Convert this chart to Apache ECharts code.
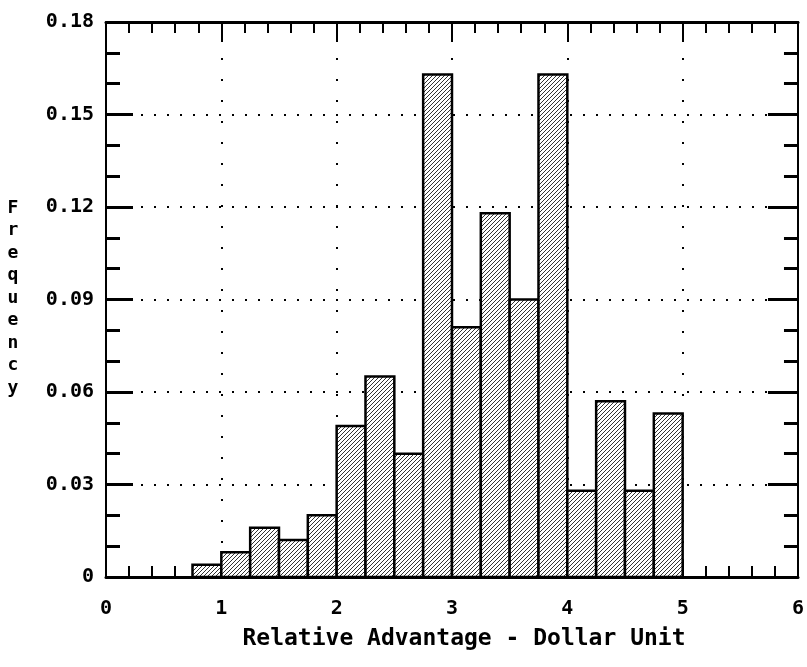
<!DOCTYPE html>
<html>
<head>
<meta charset="utf-8">
<script src="https://cdn.jsdelivr.net/npm/echarts@6/dist/echarts.min.js"></script>
<style>
  html, body { margin: 0; padding: 0; background: #fff; }
  #chart { width: 807px; height: 667px; }
</style>
</head>
<body>
<div id="chart"></div>
<script>
// Histogram bins (lower / upper edge) and the relative frequency in each bin
const binStart = [0.75, 1.00, 1.25, 1.50, 1.75, 2.00, 2.25, 2.50, 2.75, 3.00, 3.25, 3.50, 3.75, 4.00, 4.25, 4.50, 4.75];
const binEnd   = [1.00, 1.25, 1.50, 1.75, 2.00, 2.25, 2.50, 2.75, 3.00, 3.25, 3.50, 3.75, 4.00, 4.25, 4.50, 4.75, 5.00];
const frequency = [0.004, 0.008, 0.016, 0.012, 0.020, 0.049, 0.065, 0.040, 0.163, 0.081, 0.118, 0.090, 0.163, 0.028, 0.057, 0.028, 0.053];

const xTickLabels = ['0', '1', '2', '3', '4', '5', '6'];
const yTickLabels = ['0', '0.03', '0.06', '0.09', '0.12', '0.15', '0.18'];

const xTitle = 'Relative Advantage - Dollar Unit';
const yTitle = 'Frequency';

const FONT = '"DejaVu Sans Mono", "Liberation Mono", monospace';

// Opaque diagonal hatch tile used to fill the bars (white ground, dark "/" strokes)
function hatchTile() {
  const c = document.createElement('canvas');
  c.width = 4; c.height = 4;
  const g = c.getContext('2d');
  g.fillStyle = '#fff';
  g.fillRect(0, 0, 4, 4);
  g.strokeStyle = '#333';
  g.lineWidth = 1;
  g.beginPath();
  g.moveTo(-1, 5); g.lineTo(5, -1);
  g.moveTo(-1, 1); g.lineTo(1, -1);
  g.moveTo(3, 5); g.lineTo(5, 3);
  g.stroke();
  return c;
}
const hatch = { image: hatchTile(), repeat: 'repeat' };

const histData = frequency.map((f, i) => [binStart[i], binEnd[i], f]);

const chart = echarts.init(document.getElementById('chart'), null, { renderer: 'canvas' });

const tickFont = { fontFamily: FONT, fontWeight: 'bold', fontSize: 20, color: '#000' };

chart.setOption({
  animation: false,
  backgroundColor: '#fff',
  grid: { left: 106, right: 7, top: 22, bottom: 90 },
  xAxis: [
    {
      type: 'value', position: 'bottom', min: 0, max: 6, interval: 1, z: 0,
      axisLine: { show: true, lineStyle: { color: '#000', width: 3 } },
      axisTick: { show: true, inside: true, length: 18, lineStyle: { color: '#000', width: 2 } },
      minorTick: { show: true, splitNumber: 5, length: 11, lineStyle: { color: '#000', width: 2 } },
      axisLabel: {
        ...tickFont, margin: 22,
        formatter: v => xTickLabels[Math.round(v)]
      },
      splitLine: { show: true, lineStyle: { color: '#000', width: 2, type: [2, 19], dashOffset: 6 } }
    },
    {
      type: 'value', position: 'top', min: 0, max: 6, interval: 1,
      axisLine: { show: true, onZero: false, lineStyle: { color: '#000', width: 3 } },
      axisTick: { show: true, inside: true, length: 20, lineStyle: { color: '#000', width: 2 } },
      minorTick: { show: true, splitNumber: 5, length: 11, lineStyle: { color: '#000', width: 2 } },
      axisLabel: { show: false },
      splitLine: { show: false }
    }
  ],
  yAxis: [
    {
      type: 'value', position: 'left', min: 0, max: 0.18, interval: 0.03,
      axisLine: { show: true, onZero: false, lineStyle: { color: '#000', width: 2 } },
      axisTick: { show: true, inside: true, length: 27, lineStyle: { color: '#000', width: 3 } },
      minorTick: { show: true, splitNumber: 3, length: 14, lineStyle: { color: '#000', width: 3 } },
      axisLabel: {
        ...tickFont, margin: 12,
        formatter: v => yTickLabels[Math.round(v / 0.03)]
      },
      splitLine: { show: true, lineStyle: { color: '#000', width: 2, type: [2, 11], dashOffset: 4 } }
    },
    {
      type: 'value', position: 'right', min: 0, max: 0.18, interval: 0.03,
      axisLine: { show: true, onZero: false, lineStyle: { color: '#000', width: 2 } },
      axisTick: { show: true, inside: true, length: 30, lineStyle: { color: '#000', width: 3 } },
      minorTick: { show: true, splitNumber: 3, length: 14, lineStyle: { color: '#000', width: 3 } },
      axisLabel: { show: false },
      splitLine: { show: false }
    }
  ],
  series: [
    {
      type: 'custom',
      xAxisIndex: 0,
      yAxisIndex: 0,
      z: 10,
      data: histData,
      encode: { x: [0, 1], y: 2 },
      renderItem: function (params, api) {
        const topLeft = api.coord([api.value(0), api.value(2)]);
        const bottomRight = api.coord([api.value(1), 0]);
        return {
          type: 'rect',
          z2: 10,
          shape: {
            x: topLeft[0],
            y: topLeft[1],
            width: bottomRight[0] - topLeft[0],
            height: bottomRight[1] - topLeft[1]
          },
          style: { fill: hatch, stroke: '#000', lineWidth: 2.5 }
        };
      }
    }
  ],
  graphic: [
    {
      type: 'text',
      x: 464, y: 628,
      style: {
        text: xTitle,
        fontFamily: FONT, fontWeight: 'bold', fontSize: 23,
        fill: '#000', textAlign: 'center', textVerticalAlign: 'top'
      }
    },
    {
      type: 'text',
      x: 13, y: 298,
      style: {
        text: yTitle.split('').join('\n'),
        fontFamily: FONT, fontWeight: 'bold', fontSize: 18, lineHeight: 22.5,
        fill: '#000', textAlign: 'center', textVerticalAlign: 'middle'
      }
    }
  ]
});
</script>
</body>
</html>
